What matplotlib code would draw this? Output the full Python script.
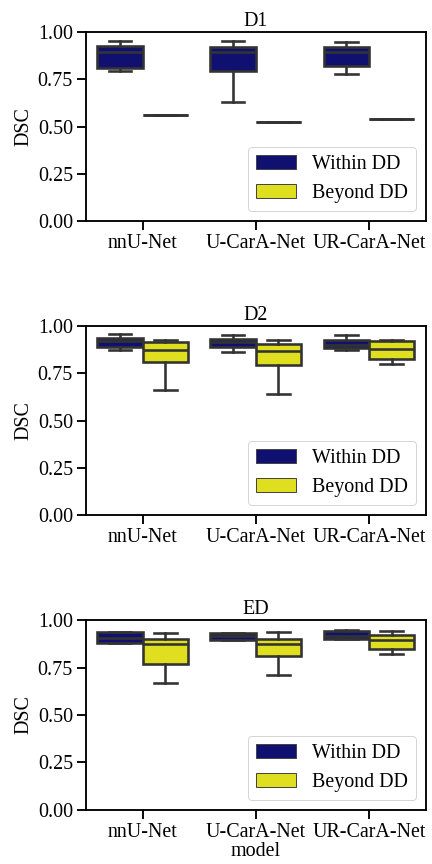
import matplotlib
matplotlib.use("Agg")
import matplotlib.pyplot as plt
from matplotlib.patches import Patch
import colorsys

# ---- data ----
datasets = ["D1", "D2", "ED"]
models = ["nnU-Net", "U-CarA-Net", "UR-CarA-Net"]
groups = ["Within DD", "Beyond DD"]

# stats per dataset: [model][group] -> (whislo, q1, med, q3, whishi)
D1_within = [(0.792, 0.811, 0.893, 0.928, 0.954),
             (0.628, 0.795, 0.893, 0.922, 0.954),
             (0.779, 0.818, 0.893, 0.922, 0.947)]
D1_beyond = [(0.562, 0.562, 0.562, 0.562, 0.562),
             (0.524, 0.524, 0.524, 0.524, 0.524),
             (0.540, 0.540, 0.540, 0.540, 0.540)]
D2_within = [(0.873, 0.891, 0.921, 0.935, 0.958),
             (0.862, 0.889, 0.917, 0.931, 0.951),
             (0.873, 0.885, 0.901, 0.929, 0.951)]
D2_beyond = [(0.665, 0.808, 0.873, 0.917, 0.926),
             (0.644, 0.794, 0.870, 0.908, 0.928),
             (0.801, 0.824, 0.878, 0.919, 0.926)]
ED_within = [(0.882, 0.882, 0.905, 0.940, 0.940),
             (0.894, 0.894, 0.917, 0.931, 0.931),
             (0.900, 0.900, 0.919, 0.945, 0.947)]
ED_beyond = [(0.671, 0.769, 0.877, 0.903, 0.931),
             (0.709, 0.811, 0.875, 0.900, 0.940),
             (0.824, 0.847, 0.894, 0.921, 0.945)]

all_stats = {"D1": (D1_within, D1_beyond),
             "D2": (D2_within, D2_beyond),
             "ED": (ED_within, ED_beyond)}

yticks = [0.00, 0.25, 0.50, 0.75, 1.00]


def desaturate(c, prop):
    rgb = matplotlib.colors.to_rgb(c)
    h, l, s = colorsys.rgb_to_hls(*rgb)
    return colorsys.hls_to_rgb(h, l, s * prop)


colors = [desaturate("navy", 0.75), desaturate("yellow", 0.75)]
edge = (0.2, 0.2, 0.2)

plt.rcParams["font.family"] = ["Liberation Serif", "DejaVu Serif"]
plt.rcParams["mathtext.fontset"] = "stix"

FS = 20
LW = 2.6
fig, axes = plt.subplots(3, 1, figsize=(6, 12), dpi=72)
fig.subplots_adjust(left=0.199, right=0.985, top=0.963, bottom=0.063, hspace=0.555)

for ax, name in zip(axes, datasets):
    within, beyond = all_stats[name]
    for gi, series in enumerate((within, beyond)):
        stats = []
        pos = []
        for mi, (lo, q1, med, q3, hi) in enumerate(series):
            stats.append(dict(whislo=lo, q1=q1, med=med, q3=q3, whishi=hi, fliers=[]))
            pos.append(mi - 0.2 + 0.4 * gi)
        ax.bxp(stats, positions=pos, widths=0.4, patch_artist=True, showfliers=False,
               boxprops=dict(facecolor=colors[gi], edgecolor=edge, linewidth=LW),
               whiskerprops=dict(color=edge, linewidth=LW),
               capprops=dict(color=edge, linewidth=LW),
               medianprops=dict(color=edge, linewidth=LW),
               manage_ticks=False)
    ax.set_xlim(-0.5, 2.5)
    ax.set_ylim(0, 1.0)
    ax.set_xticks(range(len(models)))
    ax.set_xticklabels(models, fontsize=FS)
    ax.set_yticks(yticks)
    ax.set_yticklabels([f"{v:.2f}" for v in yticks], fontsize=FS)
    ax.tick_params(axis="both", direction="out", length=9, width=1.875, pad=4)
    for sp in ax.spines.values():
        sp.set_linewidth(1.875)
    ax.set_title(name, fontsize=FS, pad=6)
    ax.set_ylabel("DSC", fontsize=FS)
    handles = [Patch(facecolor=colors[i], edgecolor=(0.27, 0.27, 0.27), linewidth=1.0,
                     label=groups[i]) for i in range(2)]
    ax.legend(handles=handles, loc="lower right", fontsize=FS, frameon=True,
              fancybox=True, edgecolor="0.8", handlelength=2.0, handleheight=0.7)

axes[-1].set_xlabel("model", fontsize=FS, labelpad=0)

fig.savefig("out.png", dpi=72)
